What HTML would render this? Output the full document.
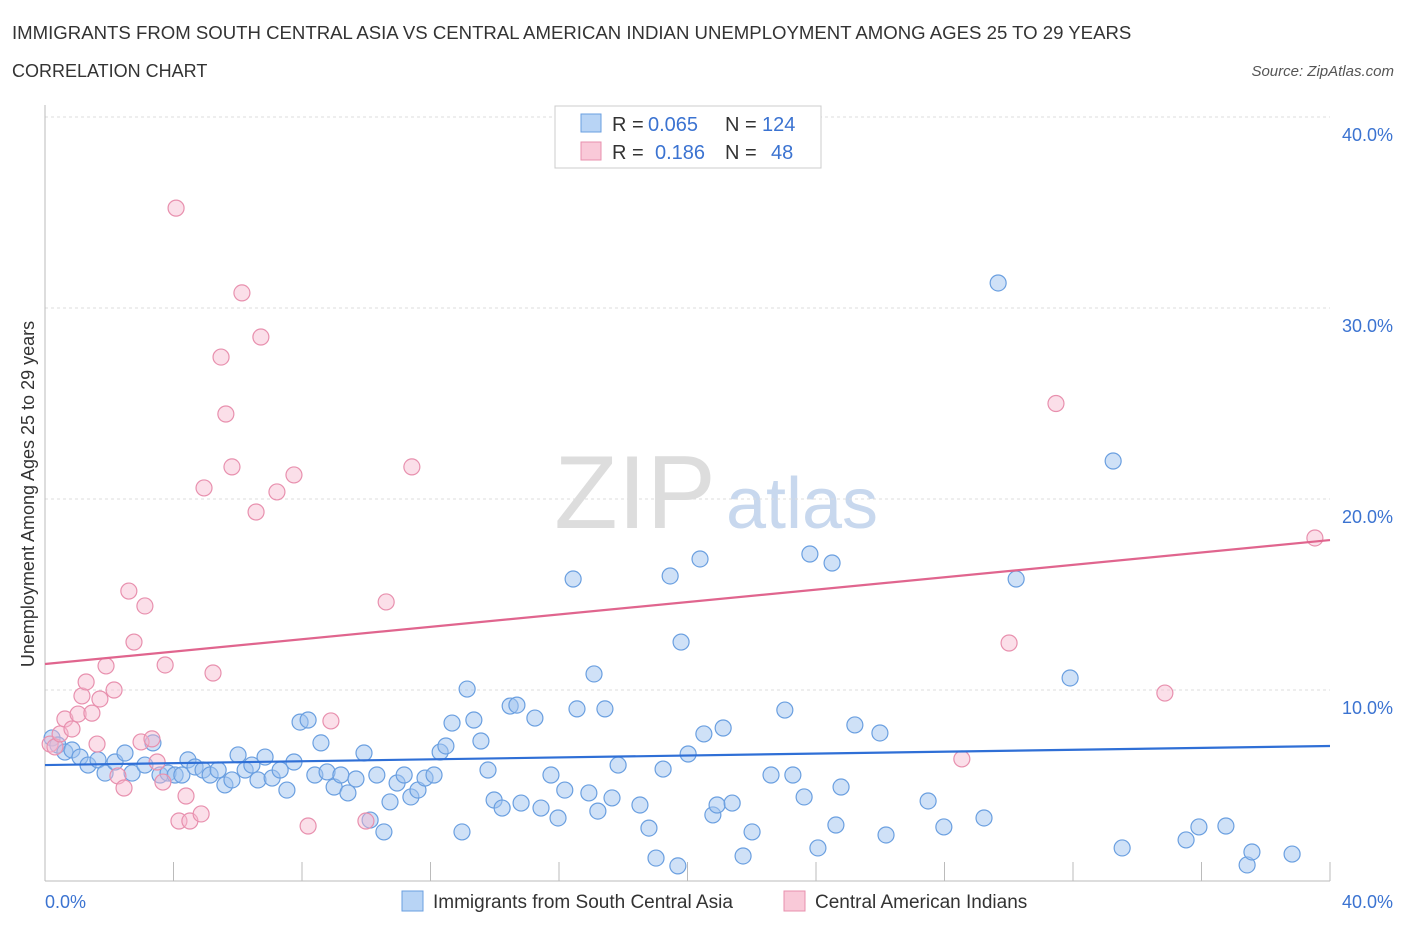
<!DOCTYPE html>
<html><head><meta charset="utf-8"><style>
body{margin:0;background:#fff;font-family:"Liberation Sans",sans-serif;}
svg text{font-family:"Liberation Sans",sans-serif;}
</style></head><body>
<svg id="c" width="1406" height="930" xmlns="http://www.w3.org/2000/svg">
<text x="12" y="39" font-size="18.6" fill="#333">IMMIGRANTS FROM SOUTH CENTRAL ASIA VS CENTRAL AMERICAN INDIAN UNEMPLOYMENT AMONG AGES 25 TO 29 YEARS</text>
<text x="12" y="77" font-size="18" fill="#333">CORRELATION CHART</text>
<text x="1394" y="76" font-size="15" fill="#555" font-style="italic" text-anchor="end">Source: ZipAtlas.com</text>
<text x="635" y="528" font-size="104" fill="#ddd" font-family="Liberation Serif" text-anchor="middle">ZIP</text>
<text x="802" y="528" font-size="72" fill="#c8d8ee" text-anchor="middle">atlas</text>
<text transform="translate(34,494) rotate(-90)" font-size="18" fill="#333" text-anchor="middle">Unemployment Among Ages 25 to 29 years</text>
<g id="grid"></g><g id="marks"></g>
<g>
<rect x="555" y="106" width="266" height="62" fill="#fff" stroke="#ccc"/>
<rect x="581" y="114" width="20" height="18" fill="#b8d4f5" stroke="#6a9fe0"/>
<rect x="581" y="142" width="20" height="18" fill="#f9c9d8" stroke="#e890ae"/>
<text x="612" y="131" font-size="20" fill="#333">R =</text>
<text x="648" y="131" font-size="20" fill="#3b73d1">0.065</text>
<text x="725" y="131" font-size="20" fill="#333">N =</text>
<text x="762" y="131" font-size="20" fill="#3b73d1">124</text>
<text x="612" y="159" font-size="20" fill="#333">R =</text>
<text x="655" y="159" font-size="20" fill="#3b73d1">0.186</text>
<text x="725" y="159" font-size="20" fill="#333">N =</text>
<text x="771" y="159" font-size="20" fill="#3b73d1">48</text>
</g>
<g>
<rect x="402" y="891" width="21" height="20" fill="#b8d4f5" stroke="#6a9fe0"/>
<text x="433" y="908" font-size="19" fill="#333">Immigrants from South Central Asia</text>
<rect x="784" y="891" width="21" height="20" fill="#f9c9d8" stroke="#e890ae"/>
<text x="815" y="908" font-size="19" fill="#333">Central American Indians</text>
</g>
</svg>
<script>
const yTicks=[10,20,30,40];
const xTickLabels=["0.0%","40.0%"];
const blueX=[0.22,0.40,0.62,0.84,1.09,1.34,1.65,1.87,2.18,2.49,
2.71,3.11,3.36,3.58,3.83,4.05,4.26,4.45,4.67,4.92,
5.14,5.39,5.60,5.82,6.01,6.23,6.44,6.63,6.85,7.07,
7.32,7.53,7.75,7.94,8.19,8.40,8.59,8.78,9.00,9.21,
9.43,9.68,9.93,10.12,10.33,10.55,10.74,10.96,11.18,11.39,
11.61,11.83,12.11,12.30,12.48,12.67,12.98,13.14,13.35,13.57,
13.79,13.98,14.23,14.48,14.69,14.82,15.25,15.44,15.75,15.97,
16.18,16.44,16.56,16.93,17.09,17.21,17.43,17.65,17.84,18.52,
18.80,19.02,19.24,19.46,19.70,19.80,20.02,20.39,20.51,20.79,
20.92,21.11,21.39,21.73,22.01,22.60,23.03,23.28,23.63,23.81,
24.06,24.50,24.62,24.78,25.21,25.99,26.18,27.49,27.98,29.23,
29.67,30.23,31.91,33.25,33.53,35.52,35.92,36.76,37.42,37.57,38.82];
const blueY=[7.49,7.12,6.75,6.86,6.49,6.07,6.34,5.65,6.23,6.70,
5.65,6.07,7.23,5.55,5.65,5.55,5.55,6.34,5.97,5.81,
5.55,5.81,5.03,5.29,6.60,5.81,6.07,5.29,6.49,5.39,
5.81,4.76,6.23,8.32,8.43,5.55,7.23,5.71,4.92,5.55,
4.61,5.34,6.70,3.19,5.55,2.57,4.14,5.13,5.55,4.40,
4.76,5.39,5.55,6.75,7.07,8.27,2.57,10.05,8.43,7.33,
5.81,4.24,3.82,9.16,9.21,4.08,8.53,3.82,5.55,3.30,
4.76,15.81,9.01,4.61,10.84,3.66,9.01,4.35,6.07,3.98,
2.77,1.20,5.86,15.97,0.79,12.51,6.65,16.86,7.70,3.46,
3.98,8.01,4.08,1.31,2.57,5.55,8.95,5.55,4.40,17.12,
1.73,16.65,2.93,4.92,8.17,7.75,2.41,4.19,2.83,3.30,
31.31,15.81,10.63,21.99,1.73,2.15,2.83,2.88,0.84,1.52,1.41];
const pinkX=[0.16,0.31,0.47,0.62,0.84,1.03,1.15,1.28,1.46,1.62,1.71,1.90,2.15,2.27,2.46,2.61,2.77,2.99,3.11,3.33,3.49,3.67,3.74,4.08,4.17,4.39,4.51,4.86,4.95,5.23,5.48,5.63,5.82,6.13,6.57,6.72,7.22,7.75,8.19,8.90,9.99,10.62,11.42,28.54,30.01,31.47,34.86,39.53];
const pinkY=[7.17,7.02,7.70,8.48,7.96,8.74,9.69,10.42,8.79,7.17,9.53,11.26,10.00,5.50,4.87,15.18,12.51,7.28,14.40,7.44,6.23,5.18,11.31,35.23,3.14,4.45,3.14,3.51,20.58,10.89,27.43,24.45,21.68,30.79,19.32,28.48,20.37,21.26,2.88,8.38,3.14,14.61,21.68,6.39,12.46,25.00,9.84,17.96];
const blueLine=[6.07,7.07];
const pinkLine=[11.36,17.85];
const X=v=>45+v*32.125, Y=v=>881-v*19.1;
const NS="http://www.w3.org/2000/svg";
const grid=document.getElementById('grid'),marks=document.getElementById('marks');
function mk(tag,attrs,parent){const e=document.createElementNS(NS,tag);for(const k in attrs)e.setAttribute(k,attrs[k]);parent.appendChild(e);return e;}
yTicks.forEach(t=>{
 const l=mk('line',{x1:45,x2:1330,y1:Y(t),y2:Y(t),stroke:'#ddd','stroke-dasharray':'3,3'},grid);
 
 
 const tx=mk('text',{x:1393,y:Y(t)+24,'font-size':18,fill:'#3b73d1','text-anchor':'end'},grid);
 tx.textContent=t.toFixed(1)+'%';
 
 
});
const ax=mk('line',{x1:45,x2:45,y1:105,y2:881,stroke:'#bbb'},grid);


const bx=mk('line',{x1:45,x2:1330,y1:881,y2:881,stroke:'#bbb'},grid);


for(let i=0;i<=10;i++){const t=mk('line',{x1:X(i*4),x2:X(i*4),y1:862,y2:881,stroke:'#bbb'},grid);
 
 }
[[0,'start',xTickLabels[0]],[40,'end',xTickLabels[1]]].forEach(([v,a,s])=>{
 const t=mk('text',{x:v?1393:45,y:908,'font-size':18,fill:'#3b73d1','text-anchor':a},grid);t.textContent=s;
 
 });
function pts(xs,ys,fill,stroke,name){xs.forEach((x,i)=>{
 const c=mk('circle',{cx:X(x),cy:Y(ys[i]),r:8,fill:fill,stroke:stroke,'stroke-width':1.2},marks);
 
 });}
pts(blueX,blueY,'rgba(160,196,240,0.5)','#6a9fe0','blue-point');
pts(pinkX,pinkY,'rgba(247,185,206,0.45)','#e890ae','pink-point');
const bl=mk('line',{x1:X(0),y1:Y(blueLine[0]),x2:X(40),y2:Y(blueLine[1]),stroke:'#2f6fd6','stroke-width':2.2},marks);


const pl=mk('line',{x1:X(0),y1:Y(pinkLine[0]),x2:X(40),y2:Y(pinkLine[1]),stroke:'#e0658e','stroke-width':2.2},marks);


</script>
</body></html>
